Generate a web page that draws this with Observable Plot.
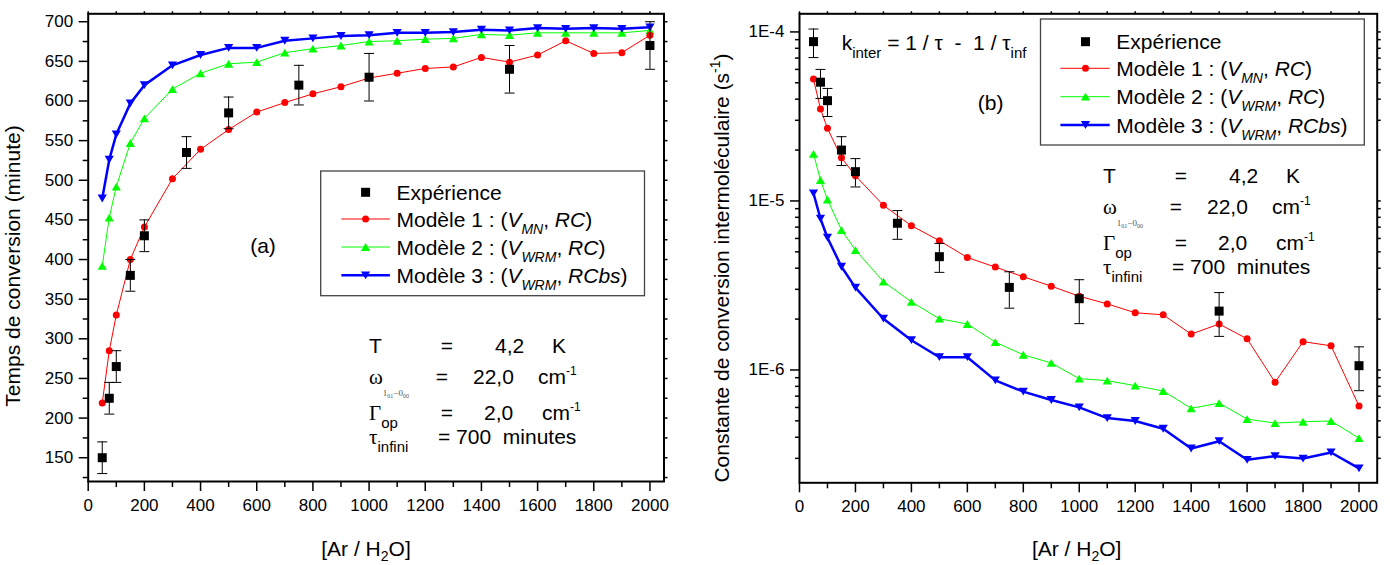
<!DOCTYPE html>
<html><head><meta charset="utf-8">
<script src="https://cdn.jsdelivr.net/npm/d3@7"></script>
<script src="https://cdn.jsdelivr.net/npm/@observablehq/plot@0.6"></script>
<style>
body{margin:0;background:#fff;}
#wrap{position:relative;width:1390px;height:565px;font-family:"Liberation Sans",Arial,sans-serif;background:#fff;}
#wrap svg{position:absolute;top:0;}
</style></head><body><div id="wrap"></div>
<script>
// ---------- data ----------
const ratioModel = [50,75,100,150,200,300,400,500,600,700,800,900,1000,1100,1200,1300,1400,1500,1600,1700,1800,1900,2000];
const tempsM1 = [219,285,330,400,441,502,539,564,586,598,609,618,629,635,641,643,655,649,658,676,660,661,683];
const tempsM2 = [392,453,492,547,578,615,635,647,649,661,666,670,675,676,678,679,684,683,686,686,686,686,689];
const tempsM3 = [477,526,558,597,620,645,658,667,667,676,679,682,683,686,686,687,690,689,692,691,692,691,693];

const ratioExp = [50,75,100,150,200,350,500,750,1000,1500,2000];
const tempsExp = [150,225,265,380,430,535,585,620,630,640,670];
const tempsErr = [20,20,20,20,20,20,20,25,30,30,30];

const kM1 = [5.26e-5,3.50e-5,2.69e-5,1.80e-5,1.41e-5,9.42e-6,7.14e-6,5.82e-6,4.63e-6,4.06e-6,3.56e-6,3.13e-6,2.73e-6,2.46e-6,2.18e-6,2.12e-6,1.63e-6,1.87e-6,1.53e-6,8.45e-7,1.47e-6,1.39e-6,6.12e-7];
const kM2 = [1.90e-5,1.33e-5,1.02e-5,6.73e-6,5.12e-6,3.33e-6,2.53e-6,2.01e-6,1.87e-6,1.46e-6,1.23e-6,1.10e-6,8.88e-7,8.65e-7,8.07e-7,7.51e-7,5.93e-7,6.37e-7,5.12e-7,4.85e-7,4.94e-7,4.99e-7,3.95e-7];
const kM3 = [1.11e-5,7.85e-6,6.06e-6,4.08e-6,3.07e-6,2.01e-6,1.50e-6,1.19e-6,1.19e-6,8.68e-7,7.44e-7,6.64e-7,6.01e-7,5.19e-7,4.99e-7,4.49e-7,3.43e-7,3.79e-7,2.94e-7,3.09e-7,2.99e-7,3.25e-7,2.62e-7];
const kExp = [8.76e-5,5.04e-5,3.92e-5,2.0e-5,1.49e-5,7.38e-6,4.68e-6,3.08e-6,2.64e-6,2.23e-6,1.06e-6];
const kExpLow = [7.05e-5,4.04e-5,3.16e-5,1.62e-5,1.21e-5,5.93e-6,3.78e-6,2.32e-6,1.88e-6,1.58e-6,7.54e-7];
const kExpHigh = [1.04e-4,6.0e-5,4.63e-5,2.4e-5,1.78e-5,8.77e-6,5.61e-6,3.81e-6,3.42e-6,2.87e-6,1.37e-6];

const xTicksMajor = [0,200,400,600,800,1000,1200,1400,1600,1800,2000];
const yTicksTemps = [150,200,250,300,350,400,450,500,550,600,650,700];
const yTicksLog = [1e-6,1e-5,1e-4];

// ---------- helpers ----------
const RED = "#ff0000", GREEN = "#00ff00", BLUE = "#0000ff";
const symSquare = {draw(c){c.moveTo(-4.5,-4.5);c.lineTo(4.5,-4.5);c.lineTo(4.5,4.5);c.lineTo(-4.5,4.5);c.closePath();}};
const symUp = {draw(c){c.moveTo(0,-3.9);c.lineTo(4.6,3.9);c.lineTo(-4.6,3.9);c.closePath();}};
const symDown = {draw(c){c.moveTo(0,3.9);c.lineTo(4.6,-3.9);c.lineTo(-4.6,-3.9);c.closePath();}};
const symCircle = {draw(c){c.moveTo(3.5,0);c.arc(0,0,3.5,0,2*Math.PI);}};
const symCap = {draw(c){c.moveTo(-5,0);c.lineTo(5,0);}};

const modelRows = (ys) => ratioModel.map((x,i)=>({x, y: ys[i]}));
const expRows = (ys, lo, hi) => ratioExp.map((x,i)=>({x, y: ys[i], lo: lo[i], hi: hi[i]}));

function seriesMarks(rows1, rows2, rows3, exp){
  return [
    Plot.line(rows2, {x:"x", y:"y", stroke:GREEN, strokeWidth:1}),
    Plot.line(rows1, {x:"x", y:"y", stroke:RED, strokeWidth:1}),
    Plot.line(rows3, {x:"x", y:"y", stroke:BLUE, strokeWidth:2.5}),
    Plot.dot(rows2, {x:"x", y:"y", symbol:symUp, fill:GREEN, stroke:"none"}),
    Plot.dot(rows3, {x:"x", y:"y", symbol:symDown, fill:BLUE, stroke:"none"}),
    Plot.dot(rows1, {x:"x", y:"y", symbol:symCircle, fill:RED, stroke:"none"}),
    Plot.ruleX(exp, {x:"x", y1:"lo", y2:"hi", stroke:"black", strokeWidth:1}),
    Plot.dot(exp, {x:"x", y:"lo", symbol:symCap, stroke:"black", fill:"none", strokeWidth:1}),
    Plot.dot(exp, {x:"x", y:"hi", symbol:symCap, stroke:"black", fill:"none", strokeWidth:1}),
    Plot.dot(exp, {x:"x", y:"y", symbol:symSquare, fill:"black", stroke:"none"})
  ];
}
const blank = () => "";
const plotStyle = {fontFamily:"Liberation Sans, Arial, sans-serif", fontSize:"17px", color:"black", background:"white", overflow:"visible"};

// ---------- left panel ----------
const leftExp = expRows(tempsExp, tempsExp.map((v,i)=>v-tempsErr[i]), tempsExp.map((v,i)=>v+tempsErr[i]));
const left = Plot.plot({
  width: 700, height: 565,
  marginLeft: 87.7, marginRight: 36.5, marginTop: 13.3, marginBottom: 84,
  style: plotStyle,
  x: {domain:[0,2050]},
  y: {domain:[120,710]},
  marks: [
    Plot.axisX({ticks: xTicksMajor, tickSize:10, tickPadding:7, fontSize:17, strokeWidth:1.5, label:null, tickFormat:d=>String(d)}),
    Plot.axisX({ticks: xTicksMajor.map(d=>d+100).filter(d=>d<2050), tickSize:6, strokeWidth:1.5, label:null, tickFormat:blank}),
    Plot.axisX({anchor:"top", ticks: d3.range(0,2050,100), tickSize:3, strokeWidth:1.5, label:null, tickFormat:blank}),
    Plot.axisY({ticks: yTicksTemps, tickSize:9, tickPadding:6, fontSize:17, strokeWidth:1.5, label:null, tickFormat:d=>String(d)}),
    Plot.axisY({ticks: yTicksTemps.map(d=>d-25), tickSize:5, strokeWidth:1.5, label:null, tickFormat:blank}),
    Plot.axisY({anchor:"right", ticks: d3.range(125,710,25), tickSize:3, strokeWidth:1.5, label:null, tickFormat:blank}),
    ...seriesMarks(modelRows(tempsM1), modelRows(tempsM2), modelRows(tempsM3), leftExp),
    Plot.frame({stroke:"black", strokeWidth:2})
  ]
});

// ---------- right panel ----------
const rightExp = expRows(kExp, kExpLow, kExpHigh);
const minorLog = [];
for (const e of [-7,-6,-5]) for (let m=2;m<=9;m++){ const v=m*Math.pow(10,e); if (v>2.15e-7 && v<1.28e-4) minorLog.push(v); }
const right = Plot.plot({
  width: 690, height: 565,
  marginLeft: 99, marginRight: 13.3, marginTop: 13.3, marginBottom: 82.7,
  style: plotStyle,
  x: {domain:[0,2065]},
  y: {type:"log", domain:[2.15e-7,1.28e-4]},
  marks: [
    Plot.axisX({ticks: xTicksMajor, tickSize:10, tickPadding:7, fontSize:17, strokeWidth:1.5, label:null, tickFormat:d=>String(d)}),
    Plot.axisX({ticks: xTicksMajor.map(d=>d+100).filter(d=>d<2065), tickSize:6, strokeWidth:1.5, label:null, tickFormat:blank}),
    Plot.axisX({anchor:"top", ticks: d3.range(0,2065,100), tickSize:3, strokeWidth:1.5, label:null, tickFormat:blank}),
    Plot.axisY({ticks: yTicksLog, tickSize:9, tickPadding:6, fontSize:17, strokeWidth:1.5, label:null, tickFormat:d=>"1E"+Math.round(Math.log10(d))}),
    Plot.axisY({ticks: minorLog, tickSize:4, strokeWidth:1.5, label:null, tickFormat:blank}),
    Plot.axisY({anchor:"right", ticks: [...minorLog, ...yTicksLog], tickSize:3, strokeWidth:1.5, label:null, tickFormat:blank}),
    ...seriesMarks(modelRows(kM1), modelRows(kM2), modelRows(kM3), rightExp),
    Plot.frame({stroke:"black", strokeWidth:2})
  ]
});

const wrap = document.getElementById("wrap");
left.style.left = "0px";
right.style.left = "700px";
wrap.appendChild(left);
wrap.appendChild(right);

// ---------- annotations ----------
const SANS = "Liberation Sans, Arial, sans-serif";
const SERIF = "Liberation Serif, Times New Roman, serif";

function rich(g, x, y, parts, opts={}){
  const t = g.append("text").attr("x", x).attr("y", y)
    .attr("font-family", SANS).attr("font-size", opts.size||21).attr("fill","black")
    .attr("text-anchor", opts.anchor || "start")
    .style("white-space","pre");
  if (opts.rotate) t.attr("transform", `rotate(${opts.rotate},${x},${y})`);
  let shift = 0;
  for (const p of parts){
    const s = t.append("tspan").text(p.t);
    const target = p.sub ? (p.subDy||7) : p.sup ? -9 : 0;
    if (target !== shift){ s.attr("dy", target - shift); shift = target; }
    if (p.sub || p.sup) s.attr("font-size", p.size || 15);
    else if (p.size) s.attr("font-size", p.size);
    if (p.italic) s.attr("font-style","italic");
    if (p.serif) s.attr("font-family", SERIF);
    if (p.fill) s.attr("fill", p.fill);
  }
  return t;
}

function legend(svg, box, rowsY, lineX0, lineX1, markX, textX){
  const g = d3.select(svg).append("g");
  g.append("rect").attr("x",box[0]).attr("y",box[1]).attr("width",box[2]-box[0]).attr("height",box[3]-box[1])
    .attr("fill","white").attr("stroke","#444").attr("stroke-width",1.3);
  const entries = [
    {sym:symSquare, color:"black", line:null, parts:[{t:"Expérience"}]},
    {sym:symCircle, color:RED, line:1, parts:[{t:"Modèle 1 : ("},{t:"V",italic:true},{t:"MN",italic:true,sub:true,size:14},{t:", "},{t:"RC",italic:true},{t:")"}]},
    {sym:symUp, color:GREEN, line:1, parts:[{t:"Modèle 2 : ("},{t:"V",italic:true},{t:"WRM",italic:true,sub:true,size:14},{t:", "},{t:"RC",italic:true},{t:")"}]},
    {sym:symDown, color:BLUE, line:2.5, parts:[{t:"Modèle 3 : ("},{t:"V",italic:true},{t:"WRM",italic:true,sub:true,size:14},{t:", "},{t:"RCbs",italic:true},{t:")"}]}
  ];
  entries.forEach((e,i)=>{
    const y = rowsY[i];
    if (e.line) g.append("line").attr("x1",lineX0).attr("x2",lineX1).attr("y1",y).attr("y2",y).attr("stroke",e.color).attr("stroke-width",e.line);
    g.append("path").attr("d", d3.symbol().type(e.sym)()).attr("transform",`translate(${markX},${y})`).attr("fill",e.color);
    rich(g, textX, y+7.5, e.parts);
  });
}

function params(svg, x0, y0){
  const g = d3.select(svg).append("g");
  const b = [y0, y0+31, y0+67, y0+91];
  rich(g, x0, b[0], [{t:"T"}]);
  rich(g, x0+78, b[0], [{t:"="}], {anchor:"middle"});
  rich(g, x0+126, b[0], [{t:"4,2"}]);
  rich(g, x0+183, b[0], [{t:"K"}]);

  rich(g, x0, b[1], [{t:"ω",serif:true,size:21},{t:"1",sub:true,subDy:12,size:9,serif:true,fill:"#555"},{t:"01",sub:true,subDy:14,size:6,serif:true,fill:"#555"},{t:"−0",sub:true,subDy:12,size:9,serif:true,fill:"#555"},{t:"00",sub:true,subDy:14,size:6,serif:true,fill:"#555"}]);
  rich(g, x0+73, b[1], [{t:"="}], {anchor:"middle"});
  rich(g, x0+104, b[1], [{t:"22,0"}]);
  rich(g, x0+169, b[1], [{t:"cm"},{t:"-1",sup:true,size:12}]);

  rich(g, x0, b[2], [{t:"Γ",serif:true,size:21},{t:"op",sub:true,subDy:8,size:15}]);
  rich(g, x0+78, b[2], [{t:"="}], {anchor:"middle"});
  rich(g, x0+115, b[2], [{t:"2,0"}]);
  rich(g, x0+173, b[2], [{t:"cm"},{t:"-1",sup:true,size:12}]);

  rich(g, x0, b[3], [{t:"τ",serif:true,size:21},{t:"infini",sub:true,subDy:8,size:15}]);
  rich(g, x0+69, b[3], [{t:"= 700  minutes"}]);
}

// left panel texts
{
  const g = d3.select(left).append("g");
  rich(g, 20, 266, [{t:"Temps de conversion (minute)"}], {anchor:"middle", rotate:-90});
  rich(g, 366, 556, [{t:"[Ar / H"},{t:"2",sub:true,subDy:5,size:14},{t:"O]"}], {anchor:"middle"});
  rich(g, 263, 252.5, [{t:"(a)"}], {anchor:"middle"});
  legend(left, [320.7,171,644.5,295.7], [192.3,219,247,275.3], 341.4, 389.9, 365.6, 396.5);
  params(left, 369, 353.3);
}
// right panel texts
{
  const g = d3.select(right).append("g");
  rich(g, 28.6, 268, [{t:"Constante de conversion intermoléculaire (s"},{t:"-1",sup:true,size:14},{t:")"}], {anchor:"middle", rotate:-90});
  rich(g, 376.7, 556, [{t:"[Ar / H"},{t:"2",sub:true,subDy:5,size:14},{t:"O]"}], {anchor:"middle"});
  rich(g, 290.7, 109.5, [{t:"(b)"}], {anchor:"middle"});
  rich(g, 141.7, 50, [{t:"k"},{t:"inter",sub:true,subDy:8,size:15},{t:" = 1 / τ  -  1 / τ"},{t:"inf",sub:true,subDy:8,size:15}]);
  legend(right, [340.5,19,664.3,145], [41.7,68.3,96.7,125], 360.4, 409.7, 385.5, 416.3);
  params(right, 403, 183.3);
}
</script></body></html>
